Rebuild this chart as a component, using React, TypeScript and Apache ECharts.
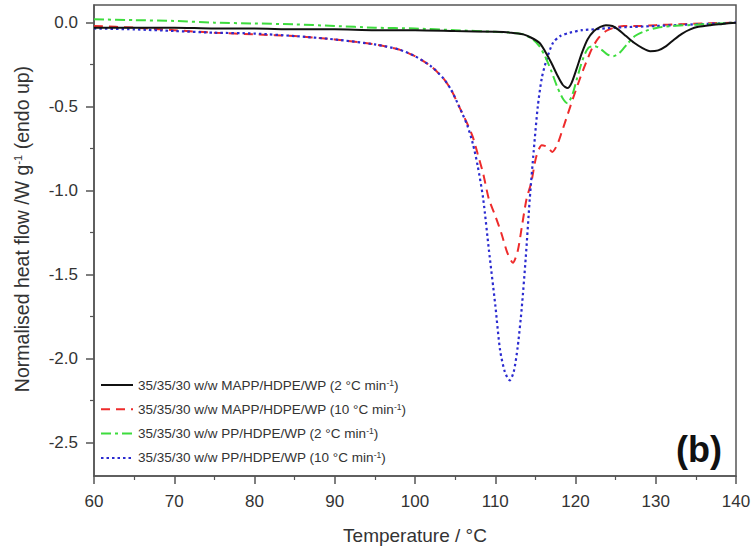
import React, { useEffect, useRef } from "react";
import * as echarts from "echarts";

// ---- Data ----
const NAME_MAPP2 = "35/35/30 w/w MAPP/HDPE/WP (2 °C min-1)";
const NAME_MAPP10 = "35/35/30 w/w MAPP/HDPE/WP (10 °C min-1)";
const NAME_PP2 = "35/35/30 w/w PP/HDPE/WP (2 °C min-1)";
const NAME_PP10 = "35/35/30 w/w PP/HDPE/WP (10 °C min-1)";

const T_MAPP2 = [60, 65, 70, 75, 80, 85, 90, 95, 100, 105, 110, 112, 113.5, 114.5, 115.5, 116.2, 117, 117.7, 118.4, 119, 119.5, 120.1, 120.8, 121.5, 122.3, 123.1, 123.8, 124.6, 125.3, 126.3, 127.3, 128.3, 129.3, 130.3, 131.3, 132.3, 133.3, 134.3, 135.3, 136.8, 138.3, 140];
const V_MAPP2 = [-0.03, -0.03, -0.03, -0.035, -0.035, -0.04, -0.04, -0.045, -0.045, -0.05, -0.055, -0.06, -0.07, -0.09, -0.12, -0.17, -0.24, -0.31, -0.37, -0.39, -0.36, -0.28, -0.18, -0.1, -0.05, -0.025, -0.015, -0.02, -0.04, -0.08, -0.12, -0.15, -0.17, -0.165, -0.14, -0.1, -0.065, -0.04, -0.025, -0.015, -0.008, 0.0];

const T_MAPP10 = [60, 65, 70, 75, 80, 85, 90, 95, 98, 100, 102, 103.5, 104.5, 105.5, 106.5, 107.2, 107.8, 108.5, 109.2, 110, 110.8, 111.5, 112.2, 112.8, 113.3, 113.9, 114.5, 115.1, 115.8, 116.5, 117.1, 117.7, 118.3, 119, 119.7, 120.5, 121.3, 122.1, 122.9, 123.8, 124.8, 126, 128, 130, 133, 136, 140];
const V_MAPP10 = [-0.02, -0.03, -0.045, -0.06, -0.07, -0.08, -0.1, -0.13, -0.16, -0.2, -0.26, -0.33, -0.4, -0.5, -0.6, -0.68, -0.78, -0.9, -1.05, -1.15, -1.26, -1.37, -1.43, -1.36, -1.22, -1.05, -0.95, -0.8, -0.73, -0.74, -0.77, -0.73, -0.65, -0.55, -0.45, -0.34, -0.24, -0.15, -0.09, -0.05, -0.03, -0.02, -0.02, -0.015, -0.01, -0.005, 0.0];

const T_PP2 = [60, 65, 70, 75, 80, 85, 90, 95, 100, 105, 110, 112, 113.5, 114.7, 115.5, 116.2, 117, 117.7, 118.4, 119, 119.6, 120.2, 120.9, 121.6, 122.4, 123.2, 124, 124.7, 125.5, 126.4, 127.4, 128.7, 130.2, 132, 134, 136, 138, 140];
const V_PP2 = [0.02, 0.015, 0.01, 0.0, -0.005, -0.01, -0.02, -0.03, -0.035, -0.045, -0.055, -0.06, -0.07, -0.1, -0.14, -0.2, -0.29, -0.38, -0.45, -0.48, -0.43, -0.33, -0.22, -0.15, -0.14, -0.16, -0.19, -0.2, -0.18, -0.13, -0.08, -0.05, -0.03, -0.02, -0.015, -0.01, -0.005, 0.0];

const T_PP10 = [60, 65, 70, 75, 80, 85, 90, 95, 98, 100, 102, 103.5, 104.5, 105.5, 106.5, 107.2, 107.8, 108.5, 109.2, 110, 110.6, 111.2, 111.8, 112.3, 112.8, 113.3, 113.8, 114.3, 114.8, 115.3, 115.8, 116.4, 117.2, 118.1, 119.3, 120.8, 122.3, 125, 130, 135, 140];
const V_PP10 = [-0.035, -0.04, -0.05, -0.06, -0.065, -0.08, -0.1, -0.13, -0.16, -0.2, -0.26, -0.33, -0.4, -0.5, -0.61, -0.72, -0.85, -1.05, -1.35, -1.68, -1.95, -2.08, -2.13, -2.08, -1.93, -1.7, -1.4, -1.05, -0.76, -0.5, -0.33, -0.22, -0.12, -0.08, -0.06, -0.045, -0.04, -0.03, -0.02, -0.01, 0.0];

const Y_TICKS = [-2.5, -2.0, -1.5, -1.0, -0.5, 0.0];
const Y_MINOR_TICKS = [-2.25, -1.75, -1.25, -0.75, -0.25];
const Y_TITLE = "Normalised heat flow /W g{sup|-1} (endo up)";

const FONT = "'Liberation Sans', Arial, sans-serif";
const AXIS_COLOR = "#555";
const TEXT_COLOR = "#333";

function pairs(t: number[], v: number[]) {
  return t.map((x, i) => [x, v[i]]);
}

function legendText(name: string) {
  return name.replace("min-1", "min{sup|-1}");
}

export default function App() {
  const ref = useRef<HTMLDivElement>(null);
  useEffect(() => {
    if (!ref.current) return;
    const chart = echarts.init(ref.current, null, { renderer: "svg" });
    const line = (name: string, t: number[], v: number[], color: string, type: any, width: number) => ({
      name,
      type: "line",
      data: pairs(t, v),
      showSymbol: false,
      symbol: "none",
      smooth: 0.25,
      lineStyle: { color, type, width, cap: "butt" },
      itemStyle: { color },
    });
    chart.setOption({
      animation: false,
      grid: {
        left: 94,
        right: 20,
        top: 5,
        bottom: 73,
        show: true,
        borderColor: AXIS_COLOR,
        borderWidth: 1.5,
        backgroundColor: "transparent",
      },
      legend: {
        data: [NAME_MAPP2, NAME_MAPP10, NAME_PP2, NAME_PP10],
        orient: "vertical",
        left: 100,
        top: 378,
        padding: 0,
        itemWidth: 32,
        itemHeight: 14,
        itemGap: 10.3,
        formatter: legendText,
        itemStyle: { color: "transparent", borderColor: "transparent", borderWidth: 0, opacity: 0 },
        textStyle: {
          fontFamily: FONT,
          fontSize: 13.5,
          color: TEXT_COLOR,
          rich: {
            sup: { fontFamily: FONT, fontSize: 8.5, verticalAlign: "top", lineHeight: 8, color: TEXT_COLOR },
          },
        },
      },
      xAxis: {
        type: "value",
        min: 60,
        max: 140,
        interval: 10,
        axisLine: { show: true, onZero: false, lineStyle: { color: AXIS_COLOR, width: 1.5 } },
        axisTick: { show: true, length: 8, lineStyle: { color: AXIS_COLOR, width: 1.5 } },
        minorTick: { show: true, splitNumber: 2, length: 4, lineStyle: { color: AXIS_COLOR, width: 1.2 } },
        splitLine: { show: false },
        axisLabel: { fontFamily: FONT, fontSize: 17, color: TEXT_COLOR, margin: 17 },
        name: "Temperature / °C",
        nameLocation: "middle",
        nameGap: 50,
        nameTextStyle: { fontFamily: FONT, fontSize: 19, color: TEXT_COLOR },
      },
      yAxis: [
        {
          type: "value",
          min: -2.7,
          max: 0.105,
          position: "left",
          axisLine: { show: true, onZero: false, lineStyle: { color: AXIS_COLOR, width: 1.5 } },
          axisTick: { show: true, length: 8, customValues: Y_TICKS, lineStyle: { color: AXIS_COLOR, width: 1.5 } },
          splitLine: { show: false },
          axisLabel: {
            customValues: Y_TICKS,
            formatter: (v: number) => (Math.abs(v) < 1e-9 ? "0.0" : v.toFixed(1)),
            fontFamily: FONT,
            fontSize: 17,
            color: TEXT_COLOR,
            margin: 16,
          },
        },
        {
          type: "value",
          min: -2.7,
          max: 0.105,
          position: "left",
          axisLine: { show: false },
          axisTick: { show: true, length: 4, customValues: Y_MINOR_TICKS, lineStyle: { color: AXIS_COLOR, width: 1.2 } },
          axisLabel: { show: false },
          splitLine: { show: false },
        },
      ],
      graphic: [
        {
          type: "text",
          x: 22,
          y: 229,
          rotation: Math.PI / 2,
          style: {
            text: Y_TITLE,
            font: `19.5px ${FONT}`,
            fill: TEXT_COLOR,
            align: "center",
            verticalAlign: "middle",
            rich: {
              sup: { fontFamily: FONT, fontSize: 11, verticalAlign: "top", lineHeight: 10, fill: TEXT_COLOR },
            },
          },
        },
        {
          type: "text",
          x: 699,
          y: 449,
          style: {
            text: "(b)",
            font: `bold 36px ${FONT}`,
            fill: "#111",
            align: "center",
            verticalAlign: "middle",
          },
        },
      ],
      series: [
        line(NAME_MAPP10, T_MAPP10, V_MAPP10, "#ee2b2b", [9, 6], 2),
        line(NAME_PP10, T_PP10, V_PP10, "#2b2bd0", [2.5, 3], 2.2),
        line(NAME_PP2, T_PP2, V_PP2, "#3ddc3d", [10, 4, 3, 4], 2),
        line(NAME_MAPP2, T_MAPP2, V_MAPP2, "#111111", "solid", 2),
      ],
    });
    return () => chart.dispose();
  }, []);
  return <div ref={ref} style={{ position: "absolute", left: 0, top: 0, width: 756, height: 550 }} />;
}
